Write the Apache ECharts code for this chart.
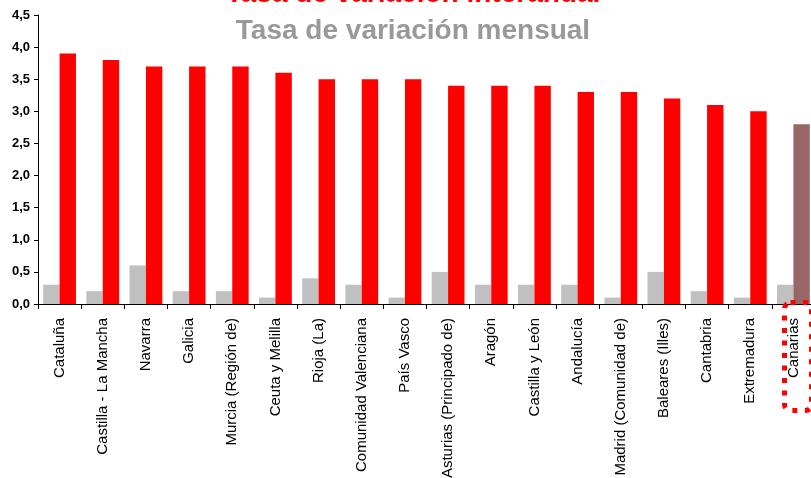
<!DOCTYPE html>
<html lang="es">
<head>
    <meta charset="UTF-8">
    <title>Tasa de variación por comunidades</title>
    <script src="https://cdn.jsdelivr.net/npm/echarts@6/dist/echarts.min.js"></script>
    <style>
        html, body { margin: 0; padding: 0; background: #fff; }
    </style>
</head>
<body>
    <div id="myChart" style="width: 811px; height: 478px;"></div>
    <script>
        // comunidades autónomas
        var regiones = ['Cataluña', 'Castilla - La Mancha', 'Navarra', 'Galicia', 'Murcia (Región de)',
            'Ceuta y Melilla', 'Rioja (La)', 'Comunidad Valenciana', 'País Vasco', 'Asturias (Principado de)',
            'Aragón', 'Castilla y León', 'Andalucía', 'Madrid (Comunidad de)', 'Baleares (Illes)',
            'Cantabria', 'Extremadura', 'Canarias'];

        // tasa de variación mensual (gris)
        var mensual = [0.3, 0.2, 0.6, 0.2, 0.2, 0.1, 0.4, 0.3, 0.1, 0.5, 0.3, 0.3, 0.3, 0.1, 0.5, 0.2, 0.1, 0.3];

        // tasa de variación interanual (rojo)
        var interanual = [3.9, 3.8, 3.7, 3.7, 3.7, 3.6, 3.5, 3.5, 3.5, 3.4, 3.4, 3.4, 3.3, 3.3, 3.2, 3.1, 3.0, 2.8];

        var destacada = 'Canarias';

        var myChart = echarts.init(document.getElementById('myChart'));

        var option = {
            animation: false,
            textStyle: { fontFamily: 'Arial, "Liberation Sans", sans-serif' },
            title: [
                {
                    text: 'Tasa de variación interanual',
                    left: 413, top: -20, textAlign: 'center', padding: 0,
                    textStyle: { color: '#ff0000', fontSize: 28, fontWeight: 'bold', fontFamily: 'Arial, "Liberation Sans", sans-serif' }
                },
                {
                    text: 'Tasa de variación mensual',
                    left: 413, top: 17, textAlign: 'center', padding: 0,
                    textStyle: { color: '#999999', fontSize: 28, fontWeight: 'bold', fontFamily: 'Arial, "Liberation Sans", sans-serif' }
                }
            ],
            grid: { left: 38, right: -4, top: 15, bottom: 174, containLabel: false, outerBoundsMode: 'none' },
            xAxis: {
                type: 'category',
                data: regiones,
                axisLine: { lineStyle: { color: '#000', width: 1 } },
                axisTick: { show: true, length: 5, lineStyle: { color: '#000' } },
                axisLabel: {
                    rotate: 90, interval: 0, margin: 14,
                    color: '#000', fontSize: 15,
                    fontFamily: 'Arial, "Liberation Sans", sans-serif'
                },
                splitLine: { show: false }
            },
            yAxis: {
                type: 'value',
                min: 0, max: 4.5, interval: 0.5,
                axisLine: { show: true, lineStyle: { color: '#000', width: 1 } },
                axisTick: { show: true, length: 4, lineStyle: { color: '#000' } },
                axisLabel: {
                    color: '#000', fontSize: 13, fontWeight: 'bold', margin: 8,
                    fontFamily: 'Arial, "Liberation Sans", sans-serif',
                    formatter: function (v) { return v.toFixed(1).replace('.', ','); }
                },
                splitLine: { show: false }
            },
            series: [
                {
                    name: 'Tasa de variación mensual',
                    type: 'bar',
                    data: mensual,
                    barGap: 0,
                    barCategoryGap: '24%',
                    itemStyle: { color: '#c0c0c0' }
                },
                {
                    name: 'Tasa de variación interanual',
                    type: 'bar',
                    data: interanual.map(function (v, i) {
                        if (regiones[i] === destacada) {
                            return { value: v, itemStyle: { color: '#996666' } };
                        }
                        return v;
                    }),
                    barGap: 0,
                    barCategoryGap: '24%',
                    itemStyle: { color: '#ff0000' }
                }
            ],
            // recuadro punteado alrededor de la etiqueta destacada
            graphic: [
                {
                    type: 'rect',
                    left: 782, top: 300,
                    shape: { width: 27, height: 108, r: 6 },
                    style: { fill: 'none', stroke: '#ff0000', lineWidth: 5, lineDash: [5, 7.5] },
                    z: 10
                }
            ]
        };

        myChart.setOption(option);
    </script>
</body>
</html>
